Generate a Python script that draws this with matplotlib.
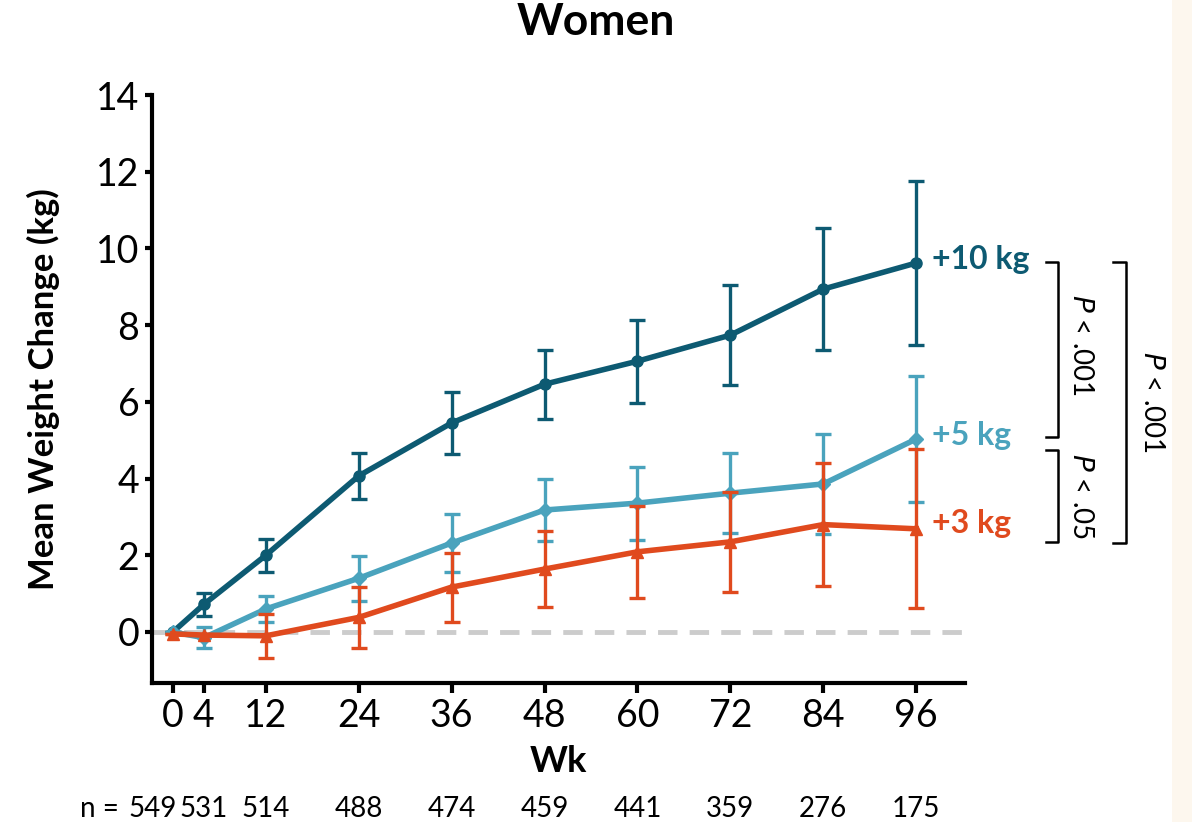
import numpy as np
import matplotlib.pyplot as plt
from matplotlib.patches import Rectangle

plt.rcParams['font.family'] = ['Lato', 'DejaVu Sans']

weeks = [0, 4, 12, 24, 36, 48, 60, 72, 84, 96]
n_counts = ["549", "531", "514", "488", "474", "459", "441", "359", "276", "175"]

# +10 kg group
y10 = [0.0, 0.72, 2.0, 4.07, 5.45, 6.46, 7.06, 7.74, 8.94, 9.62]
e10 = [0.0, 0.3, 0.43, 0.6, 0.8, 0.9, 1.08, 1.3, 1.6, 2.15]
# +5 kg group
y5 = [0.0, -0.15, 0.6, 1.4, 2.32, 3.18, 3.36, 3.62, 3.86, 5.03]
e5 = [0.0, 0.28, 0.33, 0.58, 0.75, 0.8, 0.95, 1.05, 1.3, 1.65]
# +3 kg group
y3 = [-0.05, -0.08, -0.1, 0.38, 1.17, 1.64, 2.09, 2.35, 2.8, 2.69]
e3 = [0.0, 0.0, 0.58, 0.8, 0.9, 1.0, 1.2, 1.3, 1.6, 2.07]

c10 = "#0d5a72"
c5 = "#4aa3bd"
c3 = "#e04a1e"

fig = plt.figure(figsize=(11.92, 8.22), dpi=100)
ax = fig.add_axes([0.1275, 0.1691, 0.682, 0.7153])

ax.axhline(0, color="#cccccc", lw=3.5, ls=(0, (4, 2.5)), zorder=1)

ax.errorbar(weeks, y10, yerr=e10, color=c10, lw=4, marker="o", ms=8,
            elinewidth=2.4, capsize=6, capthick=2.4, zorder=2)
ax.errorbar(weeks, y5, yerr=e5, color=c5, lw=4, marker="D", ms=7,
            elinewidth=2.4, capsize=6, capthick=2.4, zorder=3)
ax.errorbar(weeks, y3, yerr=e3, color=c3, lw=4, marker="^", ms=9,
            elinewidth=2.4, capsize=6, capthick=2.4, zorder=4)

ax.set_xlim(-2.7, 102.3)
ax.set_ylim(-1.33, 14)
ax.set_xticks(weeks)
ax.set_yticks(range(0, 15, 2))
ax.tick_params(axis="both", labelsize=27, width=3, direction="out")
ax.tick_params(axis="y", length=5, pad=4)
ax.tick_params(axis="x", length=7, pad=4)
for s in ["top", "right"]:
    ax.spines[s].set_visible(False)
for s in ["left", "bottom"]:
    ax.spines[s].set_linewidth(3)

ax.set_ylabel("Mean Weight Change (kg)", fontsize=25, fontweight="bold", labelpad=26)
ax.set_xlabel("Wk", fontsize=26, fontweight="bold", labelpad=8)
fig.suptitle("Women", fontsize=32, fontweight="bold", y=0.998)

# group labels at right
ax.text(98, y10[-1] + 0.1, "+10 kg", color=c10, fontsize=23, fontweight="bold", va="center")
ax.text(98, y5[-1] + 0.1, "+5 kg", color=c5, fontsize=23, fontweight="bold", va="center")
ax.text(98, y3[-1] + 0.15, "+3 kg", color=c3, fontsize=23, fontweight="bold", va="center")

# n row
trans = ax.get_xaxis_transform()
ax.text(-12.0, -0.215, "n =", transform=trans, fontsize=20, ha="left", va="center", clip_on=False)
for i, (w, n) in enumerate(zip(weeks, n_counts)):
    xpos = w - 2.6 if i == 0 else w
    ax.text(xpos, -0.215, n, transform=trans, fontsize=20, ha="center", va="center", clip_on=False)

# significance brackets (figure pixel coords)
def fx(px):
    return px / 1192

def fy(py):
    return 1 - py / 822

def bracket(x0, x1, ytop, ybot):
    fig.add_artist(plt.Line2D([fx(x0), fx(x1), fx(x1), fx(x0)],
                              [fy(ytop), fy(ytop), fy(ybot), fy(ybot)],
                              color="black", lw=1.8))

bracket(1046, 1058, 262, 437)
bracket(1046, 1058, 450, 542)
bracket(1113, 1126, 262, 543)
fig.text(fx(1081), fy(345), "$\\it{P}$ < .001", rotation=270, fontsize=20, ha="center", va="center")
fig.text(fx(1081), fy(496), "$\\it{P}$ < .05", rotation=270, fontsize=20, ha="center", va="center")
fig.text(fx(1152), fy(402), "$\\it{P}$ < .001", rotation=270, fontsize=20, ha="center", va="center")

fig.add_artist(Rectangle((fx(1172), 0), 1 - fx(1172), 1, transform=fig.transFigure,
                         color="#fdf7ee", lw=0, zorder=0))

fig.savefig("out.png", dpi=100)
